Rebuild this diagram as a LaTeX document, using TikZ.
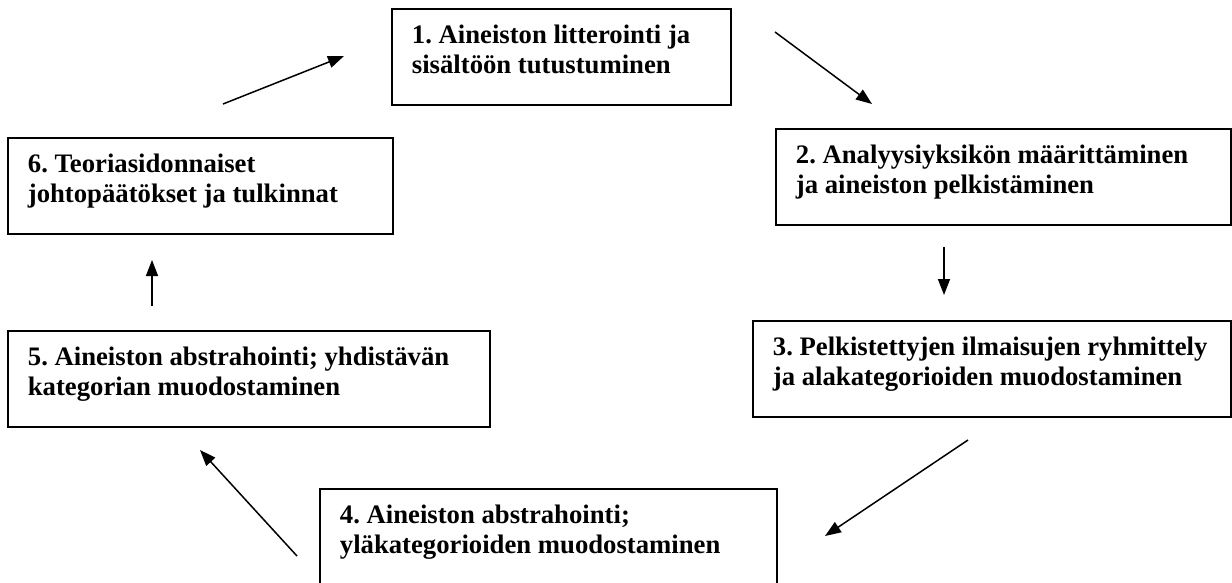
\documentclass[tikz,border=0pt]{standalone}
\usepackage{fontspec}
\setmainfont{Liberation Serif}
\usetikzlibrary{arrows.meta}
\frenchspacing
\tikzset{
  stepbox/.style={draw=black, line width=1.8pt, inner xsep=20pt, inner ysep=0pt, anchor=north west, font=\bfseries\fontsize{26.7}{30}\selectfont},
  flow/.style={line width=1.5pt, -{Triangle[length=16pt,width=12pt]}}
}
\newcommand{\boxtext}[3]{\parbox[b][#2pt][t]{#1pt}{\raggedright\frenchspacing\rule{0pt}{35pt}#3}}
\begin{document}
\begin{tikzpicture}[x=1pt,y=-1pt]
\useasboundingbox (0,0) rectangle (1232,582);
\clip (0,0) rectangle (1232,582);
\node[stepbox] (b1) at (391,8) {\boxtext{299}{96}{1. Aineiston litterointi ja\\ sisältöön tutustuminen}};
\node[stepbox] (b2) at (775,128) {\boxtext{415}{96}{2. Analyysiyksikön määrittäminen\\ ja aineiston pelkistäminen}};
\node[stepbox] (b3) at (752,320) {\boxtext{438}{96}{3. Pelkistettyjen ilmaisujen ryhmittely\\ ja alakategorioiden muodostaminen}};
\node[stepbox] (b4) at (319,488) {\boxtext{417}{112}{4. Aineiston abstrahointi;\\ yläkategorioiden muodostaminen}};
\node[stepbox] (b5) at (7,330) {\boxtext{442}{96}{5. Aineiston abstrahointi; yhdistävän\\ kategorian muodostaminen}};
\node[stepbox] (b6) at (7,137) {\boxtext{345}{96}{6. Teoriasidonnaiset\\ johtopäätökset ja tulkinnat}};
\coordinate (a61) at (223,104);
\coordinate (a61e) at (344,56);
\coordinate (a12) at (775,32);
\coordinate (a12e) at (872,104);
\coordinate (a23) at (944,247);
\coordinate (a23e) at (944,295);
\coordinate (a34) at (968,440);
\coordinate (a34e) at (825,536);
\coordinate (a45) at (297,556);
\coordinate (a45e) at (200,450);
\coordinate (a56) at (152,306);
\coordinate (a56e) at (152,260);
\draw[flow] (a61) -- (a61e);
\draw[flow] (a12) -- (a12e);
\draw[flow] (a23) -- (a23e);
\draw[flow] (a34) -- (a34e);
\draw[flow] (a45) -- (a45e);
\draw[flow] (a56) -- (a56e);
\end{tikzpicture}
\end{document}
